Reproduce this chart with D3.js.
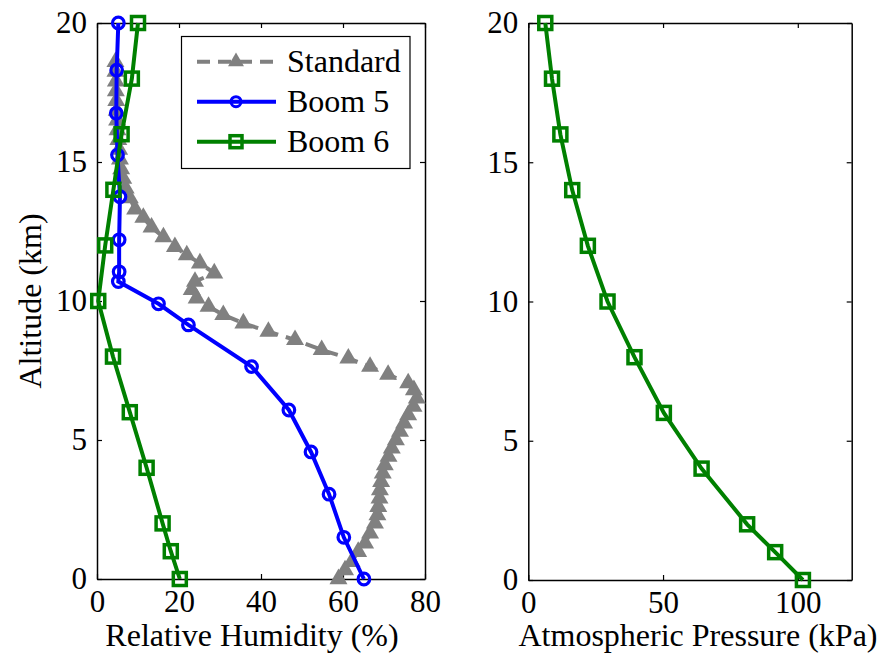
<!DOCTYPE html>
<html>
<head>
<meta charset="utf-8">
<script src="https://cdn.jsdelivr.net/npm/d3@7"></script>
<style>
  body { margin: 0; background: #fff; }
</style>
</head>
<body>
<div id="chart"></div>
<script>
// standard profile: altitude (km) and relative humidity (%)
var stdAlt = [0, 0.32, 0.62, 0.98, 1.28, 1.64, 2.0, 2.3, 2.6, 2.9, 3.2, 3.5, 3.8, 4.1, 4.4, 4.7, 5.0, 5.3, 5.6, 5.9,
  6.2, 6.5, 6.8, 7.05, 7.35, 7.64, 7.94, 8.24, 8.6, 8.9, 9.2, 9.5, 9.8, 10.1, 10.4, 10.7, 11.0, 11.36, 11.65, 11.95,
  12.3, 12.65, 13.0, 13.3, 13.7, 14.05, 14.4, 14.75, 15.1, 15.45, 15.8, 16.15, 16.5, 16.85, 17.2, 17.55, 17.9, 18.25, 18.6];
var stdRH = [58.9, 60.5, 62.1, 63.7, 65.4, 66.6, 67.8, 68.4, 68.6, 68.9, 69.0, 69.3, 69.7, 70.2, 71.1, 71.9, 72.9, 73.9, 74.9, 75.9,
  77.2, 78.0, 77.3, 75.9, 71.0, 66.6, 61.3, 54.8, 48.3, 41.8, 35.7, 30.8, 27.2, 24.3, 23.1, 23.9, 28.6, 25.1, 21.9, 19.0,
  16.2, 13.3, 11.3, 9.3, 8.0, 7.0, 6.4, 5.9, 5.6, 5.4, 5.2, 5.0, 4.9, 4.8, 4.7, 4.6, 4.6, 4.5, 4.5];

// balloon 5
var boom5Alt = [0, 1.5, 3.05, 4.57, 6.08, 7.64, 9.14, 9.9, 10.7, 11.05, 12.2, 13.75, 15.25, 16.75, 18.3, 20];
var boom5RH = [65.1, 60.2, 56.6, 52.2, 46.8, 37.7, 22.3, 15, 5.2, 5.4, 5.4, 5.6, 5, 4.7, 4.8, 5.2];

// balloon 6
var boom6Alt = [0, 1, 2, 4, 6, 8, 10, 12, 14, 16, 18, 20];
var boom6RH = [20.2, 18, 16, 12.1, 8, 3.9, 0.3, 2, 4, 6, 8.5, 10];
var boom6P = [101.9, 91.6, 81.2, 64.3, 50.3, 39.4, 29.4, 22.1, 16.3, 11.9, 8.8, 6.3];

var rhTicks = [0, 20, 40, 60, 80];
var pTicks = [0, 50, 100];
var altTicks = [0, 5, 10, 15, 20];

var legendNames = ["Standard", "Boom 5", "Boom 6"];

var W = 877, H = 662;
var FONT = "'Liberation Serif', 'Times New Roman', Times, 'DejaVu Serif', serif";

var svg = d3.select("#chart")
  .append("svg")
    .attr("width", W)
    .attr("height", H)
    .style("font-family", FONT);

// scales for both panels
var y1 = d3.scaleLinear().domain([0, 20]).range([579, 23]);
var x1 = d3.scaleLinear().domain([0, 80]).range([97, 425]);
var y2 = d3.scaleLinear().domain([0, 20]).range([580, 23]);
var x2 = d3.scaleLinear().domain([0, 120]).range([528.3, 851.7]);

function drawFrame(x, y, xTicks) {
  var g = svg.append("g");
  var x0 = x.range()[0], xe = x.range()[1];
  var y0 = y.range()[0], ye = y.range()[1];

  g.append("g")
    .attr("transform", "translate(0," + y0 + ")")
    .call(d3.axisBottom(x).tickValues(xTicks).tickSizeInner(-5).tickSizeOuter(0).tickPadding(11));
  g.append("g")
    .attr("transform", "translate(0," + ye + ")")
    .call(d3.axisTop(x).tickValues(xTicks).tickSizeInner(-5).tickSizeOuter(0).tickFormat(""));
  g.append("g")
    .attr("transform", "translate(" + x0 + ",0)")
    .call(d3.axisLeft(y).tickValues(altTicks).tickSizeInner(-5).tickSizeOuter(0).tickPadding(10));
  g.append("g")
    .attr("transform", "translate(" + xe + ",0)")
    .call(d3.axisRight(y).tickValues(altTicks).tickSizeInner(-5).tickSizeOuter(0).tickFormat(""));

  g.selectAll("g").attr("font-family", null).attr("font-size", null);
  g.selectAll(".domain").attr("stroke", "#000").attr("stroke-width", 1.5);
  g.selectAll(".tick line").attr("stroke", "#000").attr("stroke-width", 1.2);
  g.selectAll(".tick text")
    .style("font-family", FONT)
    .style("font-size", "31px")
    .attr("fill", "#000");
  return g;
}

var triangle = d3.symbol().type(d3.symbolTriangle).size(140);
var triangleSmall = d3.symbol().type(d3.symbolTriangle).size(110);

function addLine(xs, ys, x, y, color, dash) {
  var pts = xs.map((v, i) => [v, ys[i]]);
  var line = d3.line().x(d => x(d[0])).y(d => y(d[1]));
  svg.append("path")
    .datum(pts)
    .attr("d", line)
    .attr("fill", "none")
    .attr("stroke", color)
    .attr("stroke-width", 4)
    .attr("stroke-dasharray", dash || null);
  return pts;
}

// left panel: relative humidity
drawFrame(x1, y1, rhTicks);

var stdPts = addLine(stdRH, stdAlt, x1, y1, "#808080", "13,8");
svg.selectAll(".std_mark")
  .data(stdPts)
  .enter()
  .append("path")
    .attr("class", "std_mark")
    .attr("transform", d => "translate(" + x1(d[0]) + "," + y1(d[1]) + ")")
    .attr("d", triangle)
    .attr("fill", "#808080");

var b5Pts = addLine(boom5RH, boom5Alt, x1, y1, "#0000ff");
svg.selectAll(".b5_mark")
  .data(b5Pts)
  .enter()
  .append("circle")
    .attr("class", "b5_mark")
    .attr("cx", d => x1(d[0]))
    .attr("cy", d => y1(d[1]))
    .attr("r", 5.8)
    .attr("fill", "none")
    .attr("stroke", "#0000ff")
    .attr("stroke-width", 3.2);

var b6Pts = addLine(boom6RH, boom6Alt, x1, y1, "#008000");
svg.selectAll(".b6_mark")
  .data(b6Pts)
  .enter()
  .append("rect")
    .attr("class", "b6_mark")
    .attr("x", d => x1(d[0]) - 6.5)
    .attr("y", d => y1(d[1]) - 6.5)
    .attr("width", 13)
    .attr("height", 13)
    .attr("fill", "none")
    .attr("stroke", "#008000")
    .attr("stroke-width", 3.5);

// legend
var legend = svg.append("g");
legend.append("rect")
  .attr("x", 181.5)
  .attr("y", 36.5)
  .attr("width", 228.5)
  .attr("height", 132)
  .attr("fill", "#fff")
  .attr("stroke", "#000")
  .attr("stroke-width", 1.2);

var legendY = [61.7, 101.7, 141.7];
var legendColors = ["#808080", "#0000ff", "#008000"];
legendNames.forEach(function(name, i) {
  legend.append("line")
    .attr("x1", 197).attr("x2", 276)
    .attr("y1", legendY[i]).attr("y2", legendY[i])
    .attr("stroke", legendColors[i])
    .attr("stroke-width", 4)
    .attr("stroke-dasharray", i == 0 ? "13,8" : null);
  legend.append("text")
    .attr("x", 287)
    .attr("y", legendY[i] + 10)
    .style("font-size", "32px")
    .text(name);
});
legend.append("path")
  .attr("transform", "translate(236," + legendY[0] + ")")
  .attr("d", triangleSmall)
  .attr("fill", "#808080");
legend.append("circle")
  .attr("cx", 236).attr("cy", legendY[1]).attr("r", 5)
  .attr("fill", "none").attr("stroke", "#0000ff").attr("stroke-width", 3);
legend.append("rect")
  .attr("x", 230).attr("y", legendY[2] - 6).attr("width", 12).attr("height", 12)
  .attr("fill", "none").attr("stroke", "#008000").attr("stroke-width", 3.5);

// right panel: pressure
drawFrame(x2, y2, pTicks);

var pPts = addLine(boom6P, boom6Alt, x2, y2, "#008000");
svg.selectAll(".p_mark")
  .data(pPts)
  .enter()
  .append("rect")
    .attr("class", "p_mark")
    .attr("x", d => x2(d[0]) - 6.5)
    .attr("y", d => y2(d[1]) - 6.5)
    .attr("width", 13)
    .attr("height", 13)
    .attr("fill", "none")
    .attr("stroke", "#008000")
    .attr("stroke-width", 3.5);

// axis labels
svg.append("text")
  .attr("x", 252)
  .attr("y", 646)
  .attr("text-anchor", "middle")
  .style("font-size", "32px")
  .text("Relative Humidity (%)");

svg.append("text")
  .attr("x", 698)
  .attr("y", 646)
  .attr("text-anchor", "middle")
  .style("font-size", "32px")
  .text("Atmospheric Pressure (kPa)");

svg.append("text")
  .attr("transform", "translate(41,301) rotate(-90)")
  .attr("text-anchor", "middle")
  .style("font-size", "32px")
  .text("Altitude (km)");
</script>
</body>
</html>
